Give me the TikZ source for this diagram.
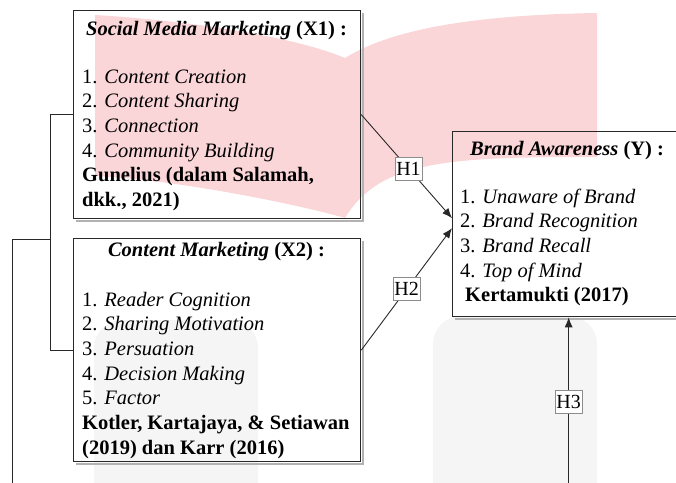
\documentclass[tikz,border=0pt]{standalone}
\usepackage{fontspec}
\setmainfont{Liberation Serif}
\usetikzlibrary{arrows.meta,calc}
\definecolor{wmpink}{RGB}{251,214,217}
\definecolor{wmgray}{RGB}{245,245,245}
\definecolor{ink}{RGB}{40,40,40}
\tikzset{
  box/.style={draw=ink, line width=1.3pt, anchor=north west, inner sep=0pt},
  boxshade/.style={draw=black!30, line width=1.2pt},
  conn/.style={draw=ink, line width=0.9pt},
  arr/.style={conn, -{Latex[length=10pt,width=8pt]}},
  hlab/.style={draw=black!45, line width=0.6pt, fill=white, inner xsep=1.2pt, inner ysep=1pt, minimum height=23pt, font=\fontsize{20}{23}\selectfont},
  txt/.style={anchor=base west, inner sep=0pt, font=\fontsize{20.5}{24.7}\selectfont},
  ttl/.style={anchor=base, inner sep=0pt, font=\fontsize{20.5}{24.7}\selectfont\bfseries},
}
\begin{document}
\begin{tikzpicture}[x=1pt,y=-1pt]
\useasboundingbox (0,0) rectangle (676,482);
\clip (0,0) rectangle (676,482);
% watermark
\fill[wmpink] (95,15) .. controls (180,20) and (290,35) .. (345,58)
  .. controls (390,30) and (470,15) .. (597,13) -- (597,157)
  .. controls (450,157) and (380,160) .. (345,218)
  .. controls (300,205) and (180,180) .. (95,176) -- cycle;
\fill[wmgray, rounded corners=28pt] (94,520) -- (94,320) -- (258,320) -- (258,520) -- cycle;
\fill[wmgray, rounded corners=28pt] (433,520) -- (433,316) -- (597,316) -- (597,520) -- cycle;

% boxes
\node[box, minimum width=287pt, minimum height=208pt] (x1) at (73,10) {};
\node[box, minimum width=287pt, minimum height=223pt] (x2) at (73,238) {};
\node[box, minimum width=232pt, minimum height=185pt] (y) at (452,131) {};
\draw[boxshade] ($(x1.north east)+(1.6,3)$) -- ($(x1.south east)+(1.6,1.6)$) -- ($(x1.south west)+(3,1.6)$);
\draw[boxshade] ($(x2.north east)+(1.6,3)$) -- ($(x2.south east)+(1.6,1.6)$) -- ($(x2.south west)+(3,1.6)$);
\draw[boxshade] ($(y.south east)+(1.6,1.6)$) -- ($(y.south west)+(3,1.6)$);

% X1 text
\node[ttl] (x1t) at (216.5,35) {\textit{Social Media Marketing} (X1) :};
\node[txt] (x1a) at (82,83) {1. \textit{Content Creation}};
\node[txt] (x1b) at (82,107.7) {2. \textit{Content Sharing}};
\node[txt] (x1c) at (82,132.4) {3. \textit{Connection}};
\node[txt] (x1d) at (82,157.1) {4. \textit{Community Building}};
\node[txt] (x1e) at (82,181.8) {\textbf{Gunelius (dalam Salamah,}};
\node[txt] (x1f) at (82,206.5) {\textbf{dkk., 2021)}};

% X2 text
\node[ttl] (x2t) at (216.5,256) {\textit{Content Marketing} (X2) :};
\node[txt] (x2a) at (82,306) {1. \textit{Reader Cognition}};
\node[txt] (x2b) at (82,330.7) {2. \textit{Sharing Motivation}};
\node[txt] (x2c) at (82,355.4) {3. \textit{Persuation}};
\node[txt] (x2d) at (82,380.1) {4. \textit{Decision Making}};
\node[txt] (x2e) at (82,404.8) {5. \textit{Factor}};
\node[txt] (x2f) at (82,429.5) {\textbf{Kotler, Kartajaya, \& Setiawan}};
\node[txt] (x2g) at (82,454.2) {\textbf{(2019) dan Karr (2016)}};

% Y text
\node[ttl] (yt) at (567,155) {\textit{Brand Awareness} (Y) :};
\node[txt] (ya) at (460,203) {1. \textit{Unaware of Brand}};
\node[txt] (yb) at (460,227.7) {2. \textit{Brand Recognition}};
\node[txt] (yc) at (460,252.4) {3. \textit{Brand Recall}};
\node[txt] (yd) at (460,277.1) {4. \textit{Top of Mind}};
\node[txt] (ye) at (465,301.8) {\textbf{Kertamukti (2017)}};

% connectors
\coordinate (t1) at ($(y.west)+(0,-6)$);
\coordinate (t2) at ($(y.west)+(0,4)$);
\coordinate (b3) at ($(y.south)+(0,180)$);
\coordinate (bj) at (50,239);
\coordinate (bl) at (12,239);
\coordinate (bb) at (12,500);
\draw[conn] (x1.west) -- (x1.west -| bj) -- (x2.west -| bj) -- (x2.west);
\draw[conn] (bj) -- (bl) -- (bb);
\draw[arr] (x1.east) -- node[hlab, pos=0.52] (h1) {H1} (t1);
\draw[arr] (x2.east) -- node[hlab, pos=0.5] (h2) {H2} (t2);
\draw[arr] (b3) -- node[hlab, pos=0.53] (h3) {H3} (y.south);
\end{tikzpicture}
\end{document}
